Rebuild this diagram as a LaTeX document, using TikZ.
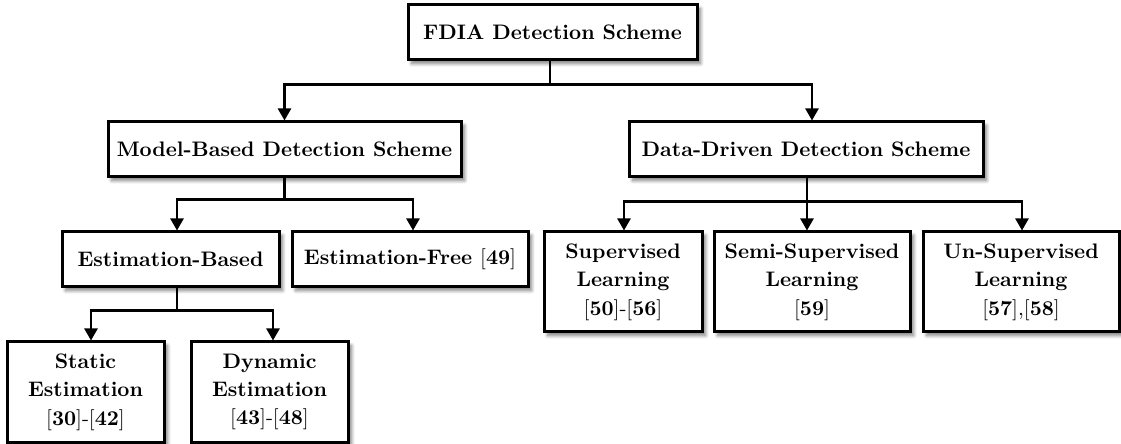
\documentclass[tikz,border=0pt]{standalone}
\usetikzlibrary{arrows.meta,shadows.blur}

\newcommand{\refn}[1]{[\textbf{#1}]}

\begin{document}
\begin{tikzpicture}[x=0.5pt,y=-0.5pt,
  box/.style={draw=black,fill=white,line width=1.5pt,align=center,
    inner sep=0pt,font=\fontsize{10.5}{14.2}\selectfont\bfseries,
    blur shadow={shadow xshift=1.8pt,shadow yshift=-1.8pt,
      shadow blur steps=6,shadow opacity=50}},
  wide/.style={box,minimum height=27.5pt},
  tall/.style={box,minimum height=50pt},
  conn/.style={line width=1.2pt},
  arr/.style={conn,-{Triangle[length=6pt,width=6.5pt]}}]

\useasboundingbox (0,0) rectangle (1121,444);

% top level
\node[wide,minimum width=144.5pt] (top) at (552.5,32.5) {FDIA Detection Scheme};

% second level
\node[wide,minimum width=176.5pt] (model) at (284.5,149.5) {Model-Based Detection Scheme};
\node[wide,minimum width=177pt] (data) at (806,149.5) {Data-Driven Detection Scheme};

% model-based branch
\node[wide,minimum width=108.5pt] (eb) at (170.5,259.5) {Estimation-Based};
\node[wide,minimum width=118pt] (ef) at (410,259.5) {Estimation-Free \normalfont\refn{49}};
\node[tall,minimum width=78.5pt] (static) at (85.5,392) {Static\\Estimation\\\normalfont\refn{30}-\refn{42}};
\node[tall,minimum width=78.5pt] (dyn) at (269.5,392) {Dynamic\\Estimation\\\normalfont\refn{43}-\refn{48}};

% data-driven branch
\node[tall,minimum width=79pt] (sup) at (623,282) {Supervised\\Learning\\\normalfont\refn{50}-\refn{56}};
\node[tall,minimum width=98pt] (semi) at (812,282) {Semi-Supervised\\Learning\\\normalfont\refn{59}};
\node[tall,minimum width=98pt] (un) at (1021,282) {Un-Supervised\\Learning\\\normalfont\refn{57},\refn{58}};

% connectors
\draw[conn] ([xshift=-1.25pt]top.south) -- ++(0,23) coordinate (j1);
\draw[arr] (j1) -| (model.north);
\draw[arr] (j1) -| ([xshift=3pt]data.north);

\draw[conn] (model.south) -- ++(0,21) coordinate (j2);
\draw[arr] (j2) -| ([xshift=3.25pt]eb.north);
\draw[arr] (j2) -| ([xshift=1.5pt]ef.north);

\draw[conn] ([xshift=3.25pt]eb.south) -- ++(0,22) coordinate (j3);
\draw[arr] (j3) -| ([xshift=2.75pt]static.north);
\draw[arr] (j3) -| ([xshift=1.75pt]dyn.north);

\draw[conn] ([xshift=0.5pt]data.south) -- ++(0,23) coordinate (j4);
\draw[arr] (j4) -| ([xshift=0.5pt]sup.north);
\draw[arr] (j4) -- ([xshift=-2.5pt]semi.north);
\draw[arr] (j4) -| ([xshift=0.5pt]un.north);
\end{tikzpicture}
\end{document}
